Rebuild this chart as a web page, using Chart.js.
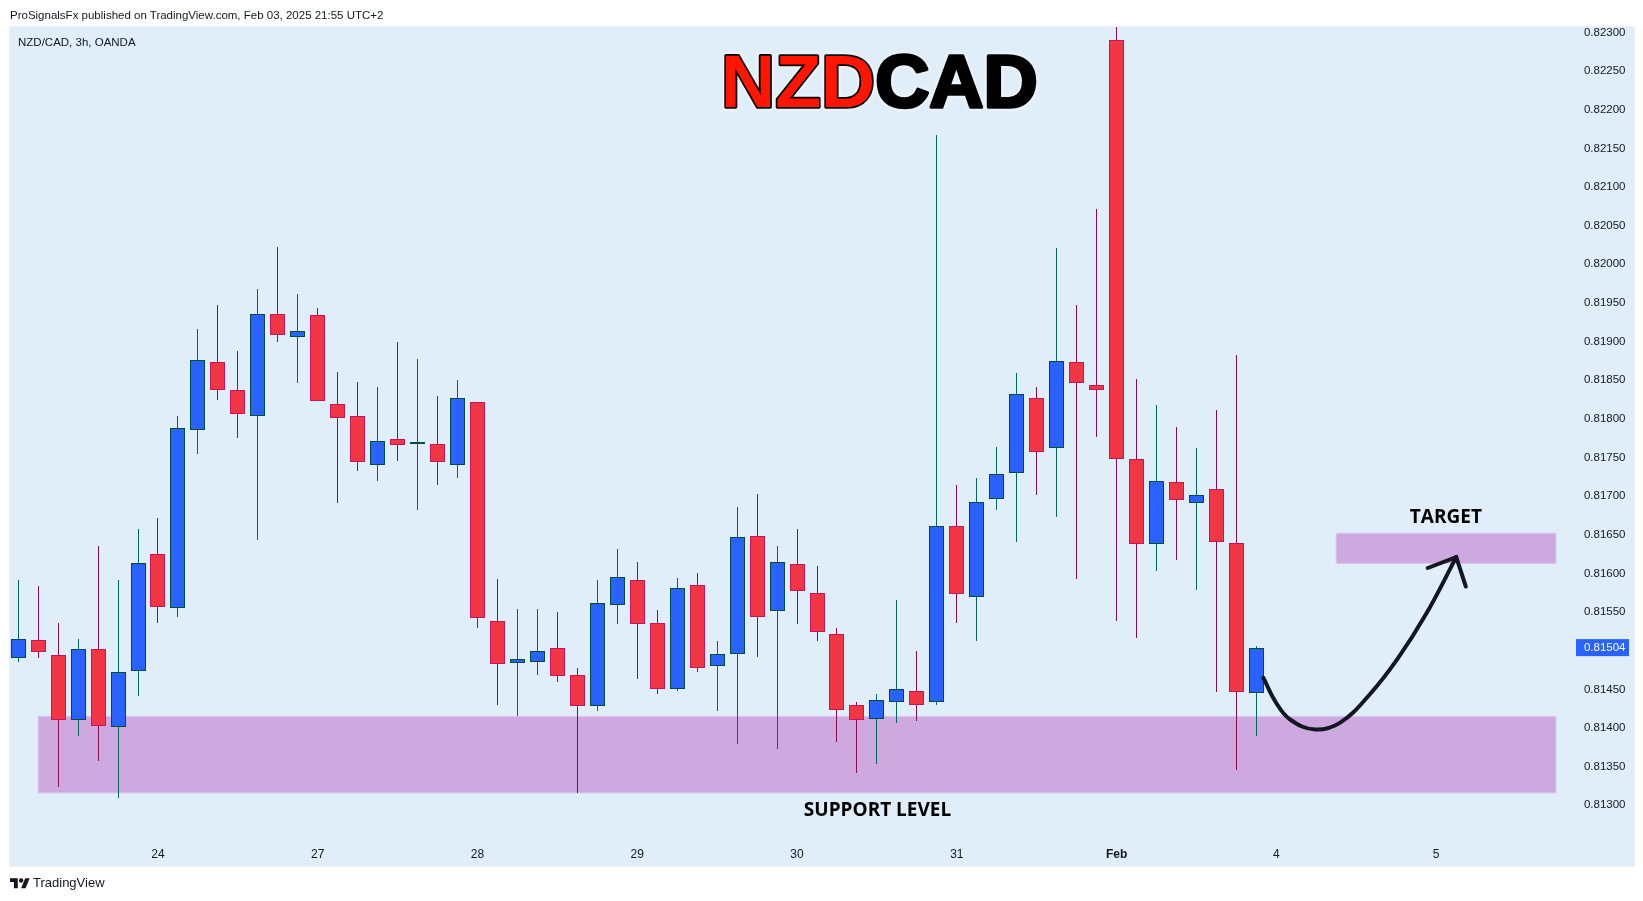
<!DOCTYPE html>
<html>
<head>
<meta charset="utf-8">
<title>NZDCAD</title>
<script src="https://cdn.jsdelivr.net/npm/chart.js@4"></script>
<style>
  html, body { margin: 0; padding: 0; background: #fff; }
  #page { position: relative; width: 1643px; height: 901px; overflow: hidden; font-family: "Liberation Sans", sans-serif; color: #131722; }
  #plot { position: absolute; left: 10px; top: 27px; width: 1624px; height: 839px; background: #e0eef9; box-shadow: 0 0 0 1px #eef1f5; }
  canvas { position: absolute; left: 0; top: 0; }
  .note { position: absolute; white-space: nowrap; line-height: 16px; }
  #published { left: 10px; top: 7px; font-size: 11.5px; }
  #symbol { left: 18px; top: 34px; font-size: 11.5px; }
  #brand { left: 33px; top: 875px; font-size: 13px; }
  #logo { position: absolute; left: 10px; top: 876px; width: 20px; height: 15.5px; fill: #131722; }
  #title { position: absolute; left: 700px; top: 30px; width: 360px; height: 100px; filter: drop-shadow(0 0 2px #fff); }
  #title text { font-family: "Liberation Sans", sans-serif; font-size: 75px; font-weight: 700; stroke: #000; stroke-width: 3.5px; stroke-linejoin: round; paint-order: stroke fill; fill: #000; }
  #title .red { fill: #ff1500; }
</style>
</head>
<body>
<div id="page">
  <div id="plot"></div>
  <canvas id="chart" width="1643" height="901"></canvas>
  <div class="note" id="published">ProSignalsFx published on TradingView.com, Feb 03, 2025 21:55 UTC+2</div>
  <div class="note" id="symbol">NZD/CAD, 3h, OANDA</div>
  <svg id="title"><text x="21" y="76.5"><tspan class="red">NZD</tspan><tspan>CAD</tspan></text></svg>
  <svg id="logo" viewBox="0 0 36 28"><path d="M14 22H7V11H0V4h14v18ZM28 22h-8l7.5-18h8L28 22Z"></path><circle cx="20" cy="8" r="4"></circle></svg>
  <div class="note" id="brand">TradingView</div>
</div>
<script>
// Candles
const opens = [0.81491, 0.81514, 0.81494, 0.81410, 0.81502, 0.81401, 0.81474, 0.81625, 0.81555, 0.81786,
  0.81874, 0.81837, 0.81804, 0.81936, 0.81906, 0.81935, 0.81819, 0.81804, 0.81740, 0.81774,
  0.81767, 0.81768, 0.81740, 0.81822, 0.81538, 0.81484, 0.81485, 0.81503, 0.81468, 0.81429,
  0.81559, 0.81591, 0.81536, 0.81451, 0.81585, 0.81480, 0.81496, 0.81648, 0.81551, 0.81612,
  0.81575, 0.81522, 0.81430, 0.81411, 0.81433, 0.81448, 0.81433, 0.81661, 0.81569, 0.81696,
  0.81730, 0.81827, 0.81762, 0.81874, 0.81844, 0.82290, 0.81748, 0.81638, 0.81718, 0.81691,
  0.81709, 0.81639, 0.81445];
const highs = [0.81591, 0.81584, 0.81536, 0.81515, 0.81635, 0.81592, 0.81657, 0.81672, 0.81804, 0.81916,
  0.81947, 0.81888, 0.81968, 0.82022, 0.81962, 0.81944, 0.81860, 0.81848, 0.81841, 0.81899,
  0.81877, 0.81830, 0.81850, 0.81822, 0.81593, 0.81554, 0.81554, 0.81550, 0.81477, 0.81591,
  0.81631, 0.81615, 0.81553, 0.81594, 0.81600, 0.81513, 0.81686, 0.81703, 0.81635, 0.81658,
  0.81609, 0.81530, 0.81433, 0.81444, 0.81566, 0.81499, 0.82167, 0.81715, 0.81723, 0.81764,
  0.81859, 0.81841, 0.82021, 0.81947, 0.82072, 0.82308, 0.81852, 0.81818, 0.81789, 0.81762,
  0.81811, 0.81882, 0.81506];
const lows = [0.81485, 0.81491, 0.81323, 0.81390, 0.81357, 0.81309, 0.81442, 0.81536, 0.81544, 0.81754,
  0.81824, 0.81775, 0.81643, 0.81899, 0.81847, 0.81823, 0.81691, 0.81733, 0.81720, 0.81746,
  0.81682, 0.81715, 0.81723, 0.81529, 0.81430, 0.81416, 0.81468, 0.81460, 0.81316, 0.81422,
  0.81535, 0.81464, 0.81444, 0.81448, 0.81473, 0.81422, 0.81379, 0.81492, 0.81373, 0.81534,
  0.81513, 0.81382, 0.81342, 0.81354, 0.81407, 0.81409, 0.81430, 0.81536, 0.81513, 0.81682,
  0.81640, 0.81702, 0.81673, 0.81593, 0.81776, 0.81539, 0.81517, 0.81603, 0.81617, 0.81579,
  0.81447, 0.81346, 0.81390];
const closes = [0.81515, 0.81498, 0.81410, 0.81502, 0.81403, 0.81472, 0.81613, 0.81556, 0.81788, 0.81876,
  0.81837, 0.81806, 0.81936, 0.81909, 0.81914, 0.81823, 0.81801, 0.81744, 0.81771, 0.81766,
  0.81767, 0.81744, 0.81827, 0.81542, 0.81483, 0.81489, 0.81499, 0.81467, 0.81428, 0.81562,
  0.81595, 0.81535, 0.81451, 0.81581, 0.81477, 0.81496, 0.81647, 0.81543, 0.81615, 0.81577,
  0.81524, 0.81423, 0.81410, 0.81436, 0.81450, 0.81430, 0.81661, 0.81573, 0.81692, 0.81729,
  0.81832, 0.81757, 0.81875, 0.81846, 0.81837, 0.81748, 0.81638, 0.81720, 0.81695, 0.81701,
  0.81641, 0.81447, 0.81503];

// Axis ticks
const priceTicks = [0.813, 0.8135, 0.814, 0.8145, 0.8155, 0.816, 0.8165, 0.817, 0.8175, 0.818,
  0.8185, 0.819, 0.8195, 0.82, 0.8205, 0.821, 0.8215, 0.822, 0.8225, 0.823];
const dayTickBars = [7, 15, 23, 31, 39, 47, 55, 63, 71];
const dayTickLabels = ['24', '27', '28', '29', '30', '31', 'Feb', '4', '5'];
const lastPrice = 0.81504;

// Drawings on the chart, in bar numbers and prices
const supportBars = [1, 77];
const supportPrices = [0.81316, 0.81415];
const targetBars = [66, 77];
const targetPrices = [0.81613, 0.81652];
const arrowBars = [62.35, 62.98, 63.69, 64.94, 66.2, 67.63, 69.06, 70.49, 72.01];
const arrowPrices = [0.81465, 0.81433, 0.81411, 0.81398, 0.81407, 0.81442, 0.81489, 0.81547, 0.81621];
const arrowHeadBars = [70.58, 72.01, 72.49];
const arrowHeadPrices = [0.81607, 0.81621, 0.81583];
const noteTexts = ['SUPPORT LEVEL', 'TARGET'];
const noteBars = [43.03, 71.49];
const notePrices = [0.81293, 0.81672];

const UP_BODY = '#2962ff';
const UP_BORDER = '#004d40';
const UP_WICK = '#00695c';
const DOWN_BODY = '#f23645';
const DOWN_BORDER = '#c2185b';
const DOWN_WICK = '#880e4f';
const ZONE_FILL = '#cda9df';
const ZONE_BORDER = '#dcc3ee';
const INK = '#131722';

const isUp = i => closes[i] >= opens[i];

// Zones go under the candles, last price tag and notes go on top
const drawingsPlugin = {
    id: 'drawings',
    beforeDatasetsDraw(chart) {
        const { x, y } = chart.scales;
        const ctx = chart.ctx;
        [[supportBars, supportPrices], [targetBars, targetPrices]].forEach(([bars, prices]) => {
            const left = x.getPixelForValue(bars[0]);
            const right = x.getPixelForValue(bars[1]);
            const top = y.getPixelForValue(prices[1]);
            const bottom = y.getPixelForValue(prices[0]);
            ctx.fillStyle = ZONE_FILL;
            ctx.strokeStyle = ZONE_BORDER;
            ctx.lineWidth = 1;
            ctx.fillRect(left, top, right - left, bottom - top);
            ctx.strokeRect(left, top, right - left, bottom - top);
        });

        // Snap candles to whole pixels so wicks and borders stay crisp
        chart.getSortedVisibleDatasetMetas().forEach(meta => {
            if (meta.type !== 'bar') return;
            meta.data.forEach(bar => {
                bar.x = Math.floor(bar.x) + 0.5;
                bar.y = Math.round(bar.y);
                bar.base = Math.round(bar.base);
            });
        });
    },
    afterDatasetsDraw(chart) {
        const { x, y } = chart.scales;
        const ctx = chart.ctx;
        ctx.save();
        ctx.textBaseline = 'middle';

        ctx.fillStyle = '#000';
        ctx.textAlign = 'center';
        ctx.font = '700 19px "Open Sans"';
        noteTexts.forEach((text, i) => {
            ctx.fillText(text, x.getPixelForValue(noteBars[i]), y.getPixelForValue(notePrices[i]));
        });

        const tagY = y.getPixelForValue(lastPrice);
        ctx.fillStyle = UP_BODY;
        ctx.fillRect(1576, tagY - 8.5, 53, 17);
        ctx.fillStyle = '#fff';
        ctx.textAlign = 'right';
        ctx.font = '11.5px "Liberation Sans"';
        ctx.fillText(lastPrice.toFixed(5), 1625.5, tagY + 0.5);
        ctx.restore();
    }
};

new Chart(document.getElementById('chart'), {
    type: 'bar',
    data: {
        datasets: [
            {
                type: 'line',
                data: arrowHeadBars.map((bar, i) => ({ x: bar, y: arrowHeadPrices[i] })),
                borderColor: INK,
                borderWidth: 4,
                borderCapStyle: 'round',
                borderJoinStyle: 'miter',
                pointRadius: 0,
                order: 1
            },
            {
                type: 'line',
                data: arrowBars.map((bar, i) => ({ x: bar, y: arrowPrices[i] })),
                borderColor: INK,
                borderWidth: 4,
                borderCapStyle: 'round',
                tension: 0.4,
                pointRadius: 0,
                order: 1
            },
            {
                data: opens.map((open, i) => ({ x: i, y: [open, closes[i]] })),
                backgroundColor: opens.map((_, i) => isUp(i) ? UP_BODY : DOWN_BODY),
                borderColor: opens.map((_, i) => isUp(i) ? UP_BORDER : DOWN_BORDER),
                borderWidth: 1,
                borderSkipped: false,
                inflateAmount: 0,
                barThickness: 15,
                minBarLength: 2,
                grouped: false,
                order: 2
            },
            {
                data: lows.map((low, i) => ({ x: i, y: [low, highs[i]] })),
                backgroundColor: opens.map((_, i) => isUp(i) ? UP_WICK : DOWN_WICK),
                borderWidth: 0,
                inflateAmount: 0,
                barThickness: 1,
                grouped: false,
                order: 3
            }
        ]
    },
    options: {
        responsive: false,
        devicePixelRatio: 1,
        animation: false,
        layout: { padding: { left: 9, right: 9, top: 27, bottom: 35 } },
        plugins: { legend: { display: false }, tooltip: { enabled: false } },
        scales: {
            x: {
                type: 'linear',
                offset: false,
                min: -0.46,
                max: 80.91,
                grid: { display: false },
                border: { display: false },
                afterBuildTicks: axis => { axis.ticks = dayTickBars.map(value => ({ value })); },
                afterFit: axis => { axis.height = 36; },
                ticks: {
                    autoSkip: false,
                    maxRotation: 0,
                    padding: 9,
                    color: INK,
                    font: ctx => ({ family: '"Liberation Sans"', size: 12, weight: ctx.tick && ctx.tick.value === 55 ? 'bold' : 'normal' }),
                    callback: value => dayTickLabels[dayTickBars.indexOf(value)]
                }
            },
            y: {
                position: 'right',
                min: 0.81268,
                max: 0.82307,
                grid: { display: false },
                border: { display: false },
                afterBuildTicks: axis => { axis.ticks = priceTicks.map(value => ({ value })); },
                afterFit: axis => { axis.width = 0; },
                ticks: {
                    mirror: true,
                    padding: -8.5,
                    color: INK,
                    font: { family: '"Liberation Sans"', size: 11.5 },
                    callback: value => value.toFixed(5)
                }
            }
        }
    },
    plugins: [drawingsPlugin]
});
</script>
</body>
</html>
